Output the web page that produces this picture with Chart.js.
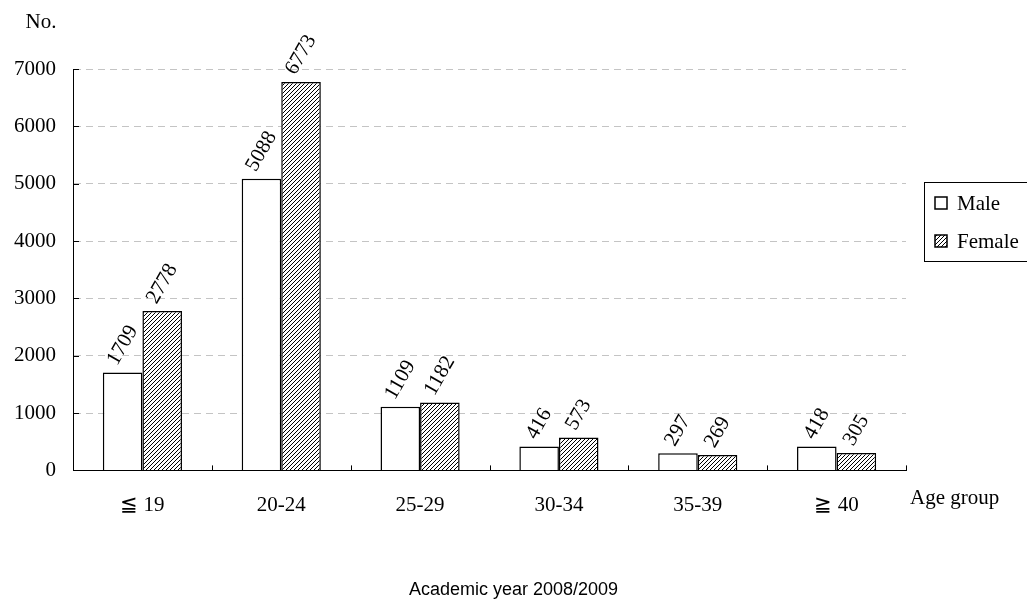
<!DOCTYPE html>
<html>
<head>
<meta charset="utf-8">
<script src="https://cdn.jsdelivr.net/npm/chart.js@4.4.1/dist/chart.umd.min.js"></script>
<style>
  body { margin: 0; background: #fff; }
  #wrap { width: 1027px; height: 608px; }
</style>
</head>
<body>
<div id="wrap"><canvas id="grafico"></canvas></div>
<script>
// datos
var categorias = ['\u2266 19', '20-24', '25-29', '30-34', '35-39', '\u2267 40'];
var hombres = [1709, 5088, 1109, 416, 297, 418];
var mujeres = [2778, 6773, 1182, 573, 269, 305];
var ticksY = [0, 1000, 2000, 3000, 4000, 5000, 6000, 7000];

var serif = '"Liberation Serif", "Times New Roman", serif';

// trama diagonal para Female
function trama() {
    var c = document.createElement('canvas');
    c.width = 4; c.height = 4;
    var g = c.getContext('2d');
    g.fillStyle = '#fff';
    g.fillRect(0, 0, 4, 4);
    g.strokeStyle = '#000';
    g.lineWidth = 1;
    g.beginPath();
    g.moveTo(0, 4); g.lineTo(4, 0);
    g.moveTo(-1, 1); g.lineTo(1, -1);
    g.moveTo(3, 5); g.lineTo(5, 3);
    g.stroke();
    return g.createPattern(c, 'repeat');
}
var patron = trama();

// marcas, etiquetas y leyenda
var extras = {
    id: 'extras',
    afterDatasetsDraw: function (chart) {
        var ctx = chart.ctx, a = chart.chartArea;
        var x = chart.scales.x, y = chart.scales.y;
        ctx.save();
        ctx.strokeStyle = '#000';
        ctx.lineWidth = 1;
        ticksY.forEach(function (v) {
            if (v === 0) return;
            var py = Math.round(y.getPixelForValue(v)) + 0.5;
            ctx.beginPath(); ctx.moveTo(a.left, py); ctx.lineTo(a.left + 6, py); ctx.stroke();
        });
        var paso = x.getPixelForValue(1) - x.getPixelForValue(0);
        categorias.forEach(function (c, i) {
            var px = Math.round(x.getPixelForValue(i) + paso / 2) + 0.5;
            ctx.beginPath(); ctx.moveTo(px, a.bottom); ctx.lineTo(px, a.bottom - 5); ctx.stroke();
        });

        // etiquetas de valor giradas
        ctx.fillStyle = '#000';
        ctx.font = '21px ' + serif;
        var ang = 60 * Math.PI / 180;
        chart.data.datasets.forEach(function (ds, di) {
            chart.getDatasetMeta(di).data.forEach(function (bar, i) {
                var txt = String(ds.data[i]);
                var w = ctx.measureText(txt).width;
                ctx.save();
                ctx.translate(bar.x, bar.y - 9 - (w / 2) * Math.sin(ang));
                ctx.rotate(-ang);
                ctx.textAlign = 'center';
                ctx.textBaseline = 'middle';
                ctx.fillText(txt, 0, 0);
                ctx.restore();
            });
        });

        // textos de ejes
        ctx.textBaseline = 'middle';
        ctx.textAlign = 'center';
        ctx.fillText('No.', a.left - 32, a.top - 47);
        ctx.textAlign = 'left';
        ctx.fillText('Age group', a.right + 4, a.bottom + 28);

        // leyenda
        ctx.strokeRect(924.5, 182.5, 120, 79);
        var filas = [203, 241];
        chart.data.datasets.forEach(function (ds, di) {
            var cy = filas[di];
            ctx.fillStyle = ds.backgroundColor;
            ctx.fillRect(935, cy - 6, 12, 12);
            ctx.lineWidth = 1.5;
            ctx.strokeRect(935, cy - 6, 12, 12);
            ctx.fillStyle = '#000';
            ctx.textAlign = 'left';
            ctx.fillText(ds.label, 957, cy + 1);
        });
        ctx.restore();
    }
};

var ctx = document.getElementById('grafico').getContext('2d');
var myChart = new Chart(ctx, {
    type: 'bar',
    data: {
        labels: categorias,
        datasets: [{
            label: 'Male',
            data: hombres,
            backgroundColor: '#fff',
            borderColor: '#000',
            borderWidth: 1.5,
            categoryPercentage: 0.57,
            barPercentage: 1
        },
        {
            label: 'Female',
            data: mujeres,
            backgroundColor: patron,
            borderColor: '#000',
            borderWidth: 1.5,
            categoryPercentage: 0.57,
            barPercentage: 1
        }]
    },
    options: {
        responsive: true,
        maintainAspectRatio: false,
        animation: false,
        layout: { padding: { top: 69, right: 0, left: 0, bottom: 0 } },
        plugins: {
            legend: { display: false },
            tooltip: { enabled: false },
            title: {
                display: true,
                position: 'bottom',
                text: 'Academic year 2008/2009',
                color: '#000',
                font: { family: '"Liberation Sans", Arial, sans-serif', size: 18, weight: 'normal' },
                padding: { top: 49, bottom: 7 }
            }
        },
        scales: {
            x: {
                grid: { display: false },
                border: { color: '#000', width: 1 },
                ticks: { color: '#000', font: { family: serif, size: 21 }, padding: 14 },
                afterFit: function (s) { s.height = 60; }
            },
            y: {
                min: 0,
                max: 7000,
                ticks: {
                    stepSize: 1000, color: '#000', font: { family: serif, size: 21 }, padding: 17,
                    callback: function (v) { return String(v); }
                },
                grid: {
                    drawTicks: false,
                    color: function (c) { return c.tick && c.tick.value === 0 ? 'rgba(0,0,0,0)' : '#c4c4c4'; }
                },
                border: { color: '#000', width: 1, dash: [7, 5] },
                afterFit: function (s) { s.width = 73; }
            },
            margen: {
                type: 'linear',
                position: 'right',
                display: true,
                ticks: { display: false },
                grid: { display: false, drawTicks: false },
                border: { display: false },
                afterFit: function (s) { s.width = 121; }
            }
        }
    },
    plugins: [extras]
});
</script>
</body>
</html>
